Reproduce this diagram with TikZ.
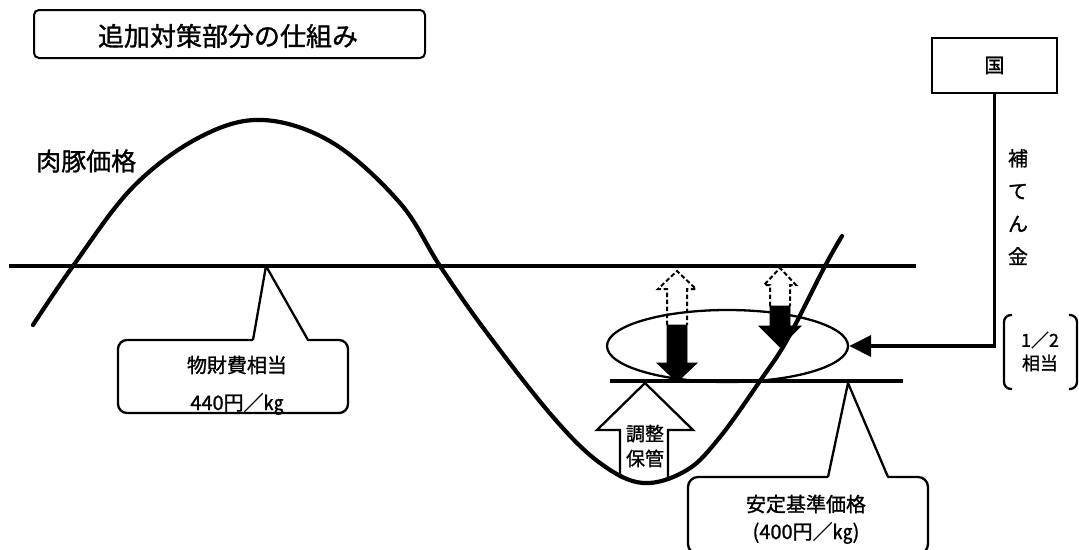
\documentclass[tikz,border=0pt]{standalone}
\usepackage{fontspec}
\setmainfont[FakeBold=1.2]{Noto Sans CJK JP}
\usetikzlibrary{shapes.geometric,arrows.meta}
\begin{document}
\begin{tikzpicture}[x=1pt,y=-1pt,
  curveline/.style={line width=4.2pt, line cap=round},
  hline/.style={line width=3.2pt},
  callout/.style={line width=2.3pt, line join=round},
  lbl/.style={inner sep=0pt, font=\fontsize{20}{24}\selectfont},
  blackarrow/.style={fill=black, draw=black, line width=0.8pt, line join=miter},
  dasharrow/.style={draw=black, line width=2pt, dash pattern=on 4.5pt off 2.5pt},
]
\useasboundingbox (0,0) rectangle (1079,549);

% title
\draw[line width=2pt, rounded corners=5pt] (34,10) rectangle (425,58);
\node[inner sep=0pt, font=\fontsize{26}{30}\selectfont] (title) at (228,36) {追加対策部分の仕組み};

% price label
\node[inner sep=0pt, anchor=west, font=\fontsize{25}{28}\selectfont] (price) at (36,161) {肉豚価格};

% horizontal lines
\coordinate (l1a) at (9,266);
\coordinate (l1b) at (916,266);
\draw[hline] (l1a) -- (l1b);
\coordinate (l2a) at (610,381);
\coordinate (l2b) at (903,381);
\draw[hline] (l2a) -- (l2b);

% ellipse
\node[draw, ellipse, line width=2.3pt, minimum width=241pt, minimum height=72pt, inner sep=0pt] (ell) at (727.5,346) {};

% dashed arrows (upward, outlines)
\draw[dasharrow] (667,325) -- (667,289) -- (658,289) -- (677,271) -- (696,289) -- (687,289) -- (687,325);
\draw[dasharrow] (770,306) -- (770,285) -- (764,285) -- (780,268) -- (796,285) -- (790,285) -- (790,306);

% black arrows (downward)
\draw[blackarrow] (667,325) -- (667,363) -- (657,363) -- (677,382) -- (697,363) -- (687,363) -- (687,325) -- cycle;
\draw[blackarrow] (770,306) -- (770,326) -- (759,326) -- (780,347) -- (801,326) -- (790,326) -- (790,306) -- cycle;

% up arrow (調整保管)
\draw[line width=2.3pt, fill=white, line join=miter] (620,478) -- (620,430) -- (597,430) -- (645,383) -- (693,430) -- (668,430) -- (668,478);
\node[inner sep=0pt, align=center, font=\fontsize{19}{25}\selectfont] (chosei) at (645,446) {調整\\保管};

% price curve
\draw[curveline] plot[smooth, tension=0.6] coordinates {(33,325) (73,266) (133,187) (200,137) (263,120) (333,143) (400,203) (440,266) (487,333) (553,417) (600,463) (643,483) (687,470) (720,437) (760,381) (787,340) (825,266) (842,236)};

% callout 1
\coordinate (c1tip) at (266,266);
\draw[callout] (253,340) -- (c1tip) -- (308,340) [rounded corners=9pt] -- (348,340) -- (348,413) -- (118,413) -- (118,340) [sharp corners] -- (253,340);
\node[lbl] (c1t1) at (237,365) {物財費相当};
\node[lbl] (c1t2) at (237,404) {440円／㎏};

% callout 2
\coordinate (c2tip) at (848,383);
\draw[callout] (828,477) -- (c2tip) -- (888,477) [rounded corners=10pt] -- (928,477) -- (928,554) -- (688,554) -- (688,477) [sharp corners] -- (828,477);
\node[lbl] (c2t1) at (806,504) {安定基準価格};
\node[lbl] (c2t2) at (806,533) {(400円／㎏)};

% country box
\node[draw, line width=2pt, minimum width=125pt, minimum height=55pt, inner sep=0pt, font=\fontsize{20}{24}\selectfont] (kuni) at (994.5,65.5) {国};

% subsidy line with arrow to ellipse
\draw[line width=3.4pt, -{Triangle[length=22pt,width=21pt]}] (kuni.south) |- (ell.east);

% vertical text
\node[inner sep=0pt, align=center, font=\fontsize{20}{32.7}\selectfont] (hoten) at (1018,207) {補\\て\\ん\\金};

% bracket
\draw[line width=2.3pt, rounded corners=7pt] (1012,315) -- (1004,315) -- (1004,389) -- (1012,389);
\draw[line width=2.3pt, rounded corners=7pt] (1069,315) -- (1077,315) -- (1077,389) -- (1069,389);
\node[inner sep=0pt, font=\fontsize{18}{22}\selectfont] (half) at (1040,340) {1／2};
\node[inner sep=0pt, font=\fontsize{18}{22}\selectfont] (soto) at (1040,363) {相当};
\end{tikzpicture}
\end{document}
